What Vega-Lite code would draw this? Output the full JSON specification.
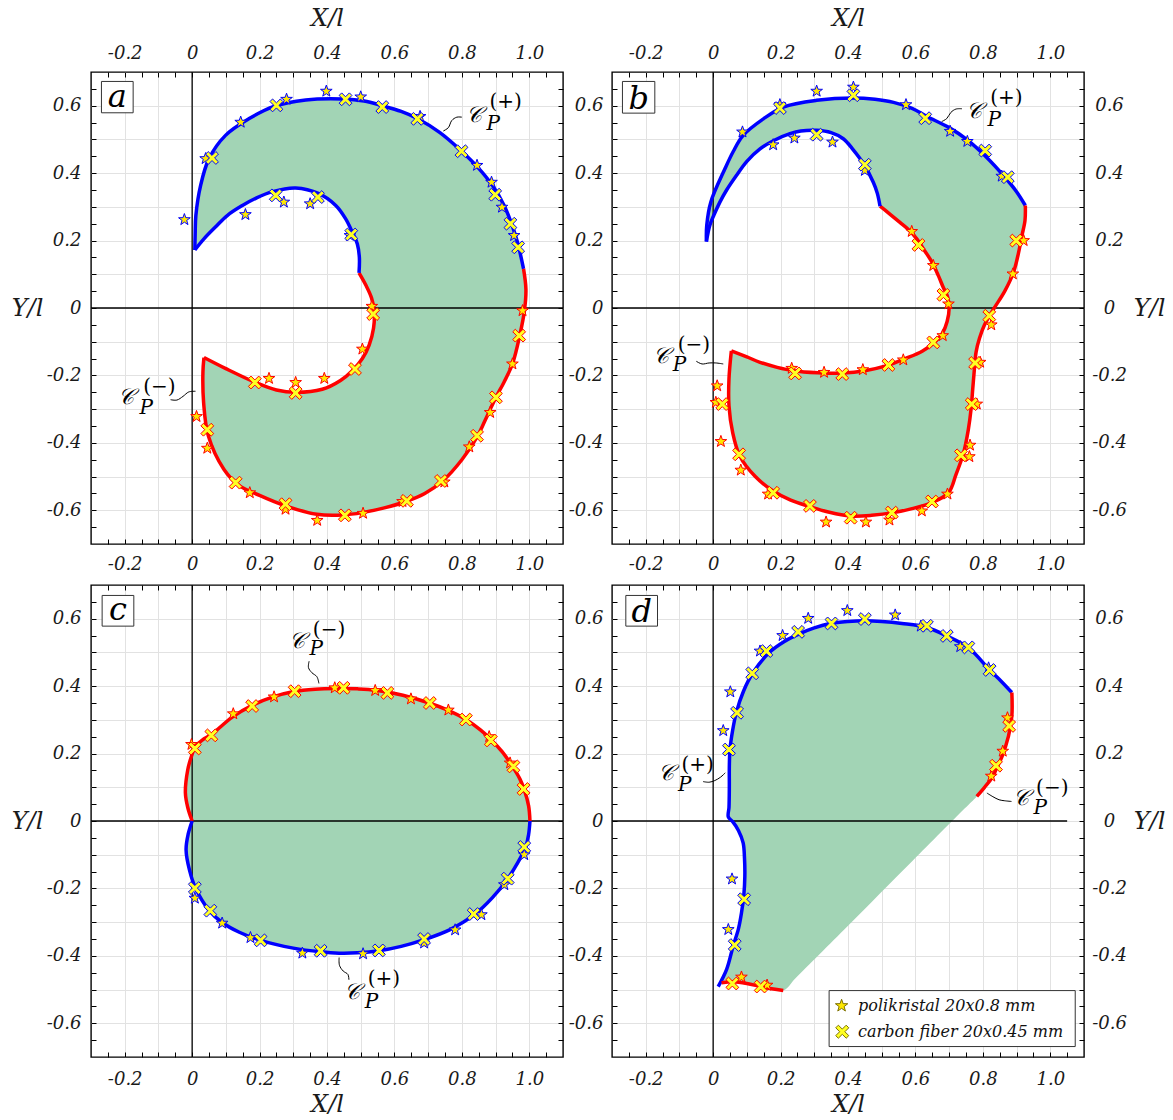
{
"$schema":"https://vega.github.io/schema/vega-lite/v6.json",
"background":"white",
"padding":{"left":10,"top":5,"right":8,"bottom":0},
"bounds":"flush",
"columns":2,
"spacing":{"row":41,"column":49},
"config":{"view":{"stroke":"#000","strokeWidth":1.4}},
"datasets":{
"curve":[
{"p":"a","s":1,"c":"+","i":0,"x":0.008,"y":0.172},{"p":"a","s":1,"c":"+","i":1,"x":0.009,"y":0.22},{"p":"a","s":1,"c":"+","i":2,"x":0.011,"y":0.274},{"p":"a","s":1,"c":"+","i":3,"x":0.025,"y":0.363},{"p":"a","s":1,"c":"+","i":4,"x":0.05,"y":0.443},{"p":"a","s":1,"c":"+","i":5,"x":0.099,"y":0.512},{"p":"a","s":1,"c":"+","i":6,"x":0.168,"y":0.561},{"p":"a","s":1,"c":"+","i":7,"x":0.243,"y":0.598},{"p":"a","s":1,"c":"+","i":8,"x":0.337,"y":0.617},{"p":"a","s":1,"c":"+","i":9,"x":0.446,"y":0.62},{"p":"a","s":1,"c":"+","i":10,"x":0.51,"y":0.614},{"p":"a","s":1,"c":"+","i":11,"x":0.564,"y":0.6},{"p":"a","s":1,"c":"+","i":12,"x":0.62,"y":0.583},{"p":"a","s":1,"c":"+","i":13,"x":0.668,"y":0.562},{"p":"a","s":1,"c":"+","i":14,"x":0.735,"y":0.52},{"p":"a","s":1,"c":"+","i":15,"x":0.797,"y":0.467},{"p":"a","s":1,"c":"+","i":16,"x":0.85,"y":0.414},{"p":"a","s":1,"c":"+","i":17,"x":0.891,"y":0.363},{"p":"a","s":1,"c":"+","i":18,"x":0.925,"y":0.305},{"p":"a","s":1,"c":"+","i":19,"x":0.946,"y":0.254},{"p":"a","s":1,"c":"+","i":20,"x":0.965,"y":0.195},{"p":"a","s":1,"c":"+","i":21,"x":0.983,"y":0.116},
{"p":"a","s":2,"c":"-","i":22,"x":0.983,"y":0.116},{"p":"a","s":2,"c":"-","i":23,"x":0.99,"y":0.056},{"p":"a","s":2,"c":"-","i":24,"x":0.986,"y":-0.005},{"p":"a","s":2,"c":"-","i":25,"x":0.972,"y":-0.08},{"p":"a","s":2,"c":"-","i":26,"x":0.95,"y":-0.166},{"p":"a","s":2,"c":"-","i":27,"x":0.925,"y":-0.22},{"p":"a","s":2,"c":"-","i":28,"x":0.901,"y":-0.265},{"p":"a","s":2,"c":"-","i":29,"x":0.875,"y":-0.32},{"p":"a","s":2,"c":"-","i":30,"x":0.847,"y":-0.379},{"p":"a","s":2,"c":"-","i":31,"x":0.8,"y":-0.45},{"p":"a","s":2,"c":"-","i":32,"x":0.743,"y":-0.513},{"p":"a","s":2,"c":"-","i":33,"x":0.69,"y":-0.55},{"p":"a","s":2,"c":"-","i":34,"x":0.634,"y":-0.574},{"p":"a","s":2,"c":"-","i":35,"x":0.57,"y":-0.593},{"p":"a","s":2,"c":"-","i":36,"x":0.505,"y":-0.607},{"p":"a","s":2,"c":"-","i":37,"x":0.446,"y":-0.614},{"p":"a","s":2,"c":"-","i":38,"x":0.37,"y":-0.612},{"p":"a","s":2,"c":"-","i":39,"x":0.277,"y":-0.587},{"p":"a","s":2,"c":"-","i":40,"x":0.2,"y":-0.556},{"p":"a","s":2,"c":"-","i":41,"x":0.139,"y":-0.526},{"p":"a","s":2,"c":"-","i":42,"x":0.094,"y":-0.478},{"p":"a","s":2,"c":"-","i":43,"x":0.048,"y":-0.379},{"p":"a","s":2,"c":"-","i":44,"x":0.034,"y":-0.28},{"p":"a","s":2,"c":"-","i":45,"x":0.032,"y":-0.19},{"p":"a","s":2,"c":"-","i":46,"x":0.035,"y":-0.147},
{"p":"a","s":3,"c":"-","i":47,"x":0.035,"y":-0.147},{"p":"a","s":3,"c":"-","i":48,"x":0.1,"y":-0.18},{"p":"a","s":3,"c":"-","i":49,"x":0.188,"y":-0.221},{"p":"a","s":3,"c":"-","i":50,"x":0.25,"y":-0.243},{"p":"a","s":3,"c":"-","i":51,"x":0.307,"y":-0.25},{"p":"a","s":3,"c":"-","i":52,"x":0.386,"y":-0.241},{"p":"a","s":3,"c":"-","i":53,"x":0.44,"y":-0.215},{"p":"a","s":3,"c":"-","i":54,"x":0.475,"y":-0.186},{"p":"a","s":3,"c":"-","i":55,"x":0.505,"y":-0.15},{"p":"a","s":3,"c":"-","i":56,"x":0.525,"y":-0.11},{"p":"a","s":3,"c":"-","i":57,"x":0.538,"y":-0.06},{"p":"a","s":3,"c":"-","i":58,"x":0.54,"y":-0.01},{"p":"a","s":3,"c":"-","i":59,"x":0.532,"y":0.03},{"p":"a","s":3,"c":"-","i":60,"x":0.515,"y":0.068},{"p":"a","s":3,"c":"-","i":61,"x":0.495,"y":0.104},
{"p":"a","s":4,"c":"+","i":62,"x":0.495,"y":0.104},{"p":"a","s":4,"c":"+","i":63,"x":0.496,"y":0.15},{"p":"a","s":4,"c":"+","i":64,"x":0.49,"y":0.19},{"p":"a","s":4,"c":"+","i":65,"x":0.475,"y":0.225},{"p":"a","s":4,"c":"+","i":66,"x":0.455,"y":0.265},{"p":"a","s":4,"c":"+","i":67,"x":0.426,"y":0.304},{"p":"a","s":4,"c":"+","i":68,"x":0.376,"y":0.339},{"p":"a","s":4,"c":"+","i":69,"x":0.307,"y":0.356},{"p":"a","s":4,"c":"+","i":70,"x":0.238,"y":0.345},{"p":"a","s":4,"c":"+","i":71,"x":0.19,"y":0.326},{"p":"a","s":4,"c":"+","i":72,"x":0.149,"y":0.304},{"p":"a","s":4,"c":"+","i":73,"x":0.105,"y":0.275},{"p":"a","s":4,"c":"+","i":74,"x":0.069,"y":0.24},{"p":"a","s":4,"c":"+","i":75,"x":0.035,"y":0.205},{"p":"a","s":4,"c":"+","i":76,"x":0.008,"y":0.172},

{"p":"b","s":1,"c":"+","i":0,"x":-0.02,"y":0.197},{"p":"b","s":1,"c":"+","i":1,"x":-0.019,"y":0.245},{"p":"b","s":1,"c":"+","i":2,"x":-0.007,"y":0.314},{"p":"b","s":1,"c":"+","i":3,"x":0.035,"y":0.413},{"p":"b","s":1,"c":"+","i":4,"x":0.06,"y":0.465},{"p":"b","s":1,"c":"+","i":5,"x":0.089,"y":0.512},{"p":"b","s":1,"c":"+","i":6,"x":0.149,"y":0.561},{"p":"b","s":1,"c":"+","i":7,"x":0.208,"y":0.596},{"p":"b","s":1,"c":"+","i":8,"x":0.307,"y":0.616},{"p":"b","s":1,"c":"+","i":9,"x":0.416,"y":0.623},{"p":"b","s":1,"c":"+","i":10,"x":0.48,"y":0.619},{"p":"b","s":1,"c":"+","i":11,"x":0.535,"y":0.61},{"p":"b","s":1,"c":"+","i":12,"x":0.59,"y":0.592},{"p":"b","s":1,"c":"+","i":13,"x":0.634,"y":0.568},{"p":"b","s":1,"c":"+","i":14,"x":0.7,"y":0.535},{"p":"b","s":1,"c":"+","i":15,"x":0.752,"y":0.5},{"p":"b","s":1,"c":"+","i":16,"x":0.81,"y":0.448},{"p":"b","s":1,"c":"+","i":17,"x":0.861,"y":0.393},{"p":"b","s":1,"c":"+","i":18,"x":0.9,"y":0.345},{"p":"b","s":1,"c":"+","i":19,"x":0.926,"y":0.304},
{"p":"b","s":2,"c":"-","i":20,"x":0.926,"y":0.304},{"p":"b","s":2,"c":"-","i":21,"x":0.925,"y":0.26},{"p":"b","s":2,"c":"-","i":22,"x":0.916,"y":0.215},{"p":"b","s":2,"c":"-","i":23,"x":0.905,"y":0.16},{"p":"b","s":2,"c":"-","i":24,"x":0.891,"y":0.106},{"p":"b","s":2,"c":"-","i":25,"x":0.865,"y":0.05},{"p":"b","s":2,"c":"-","i":26,"x":0.832,"y":-0.003},{"p":"b","s":2,"c":"-","i":27,"x":0.805,"y":-0.05},{"p":"b","s":2,"c":"-","i":28,"x":0.79,"y":-0.09},{"p":"b","s":2,"c":"-","i":29,"x":0.78,"y":-0.13},{"p":"b","s":2,"c":"-","i":30,"x":0.775,"y":-0.18},{"p":"b","s":2,"c":"-","i":31,"x":0.77,"y":-0.24},{"p":"b","s":2,"c":"-","i":32,"x":0.765,"y":-0.3},{"p":"b","s":2,"c":"-","i":33,"x":0.757,"y":-0.36},{"p":"b","s":2,"c":"-","i":34,"x":0.743,"y":-0.429},{"p":"b","s":2,"c":"-","i":35,"x":0.72,"y":-0.495},{"p":"b","s":2,"c":"-","i":36,"x":0.698,"y":-0.548},{"p":"b","s":2,"c":"-","i":37,"x":0.649,"y":-0.577},{"p":"b","s":2,"c":"-","i":38,"x":0.59,"y":-0.595},{"p":"b","s":2,"c":"-","i":39,"x":0.535,"y":-0.607},{"p":"b","s":2,"c":"-","i":40,"x":0.47,"y":-0.615},{"p":"b","s":2,"c":"-","i":41,"x":0.406,"y":-0.617},{"p":"b","s":2,"c":"-","i":42,"x":0.345,"y":-0.606},{"p":"b","s":2,"c":"-","i":43,"x":0.287,"y":-0.589},{"p":"b","s":2,"c":"-","i":44,"x":0.23,"y":-0.57},{"p":"b","s":2,"c":"-","i":45,"x":0.178,"y":-0.543},{"p":"b","s":2,"c":"-","i":46,"x":0.125,"y":-0.5},{"p":"b","s":2,"c":"-","i":47,"x":0.079,"y":-0.439},{"p":"b","s":2,"c":"-","i":48,"x":0.058,"y":-0.37},{"p":"b","s":2,"c":"-","i":49,"x":0.047,"y":-0.29},{"p":"b","s":2,"c":"-","i":50,"x":0.047,"y":-0.21},{"p":"b","s":2,"c":"-","i":51,"x":0.054,"y":-0.127},
{"p":"b","s":3,"c":"-","i":52,"x":0.054,"y":-0.127},{"p":"b","s":3,"c":"-","i":53,"x":0.1,"y":-0.145},{"p":"b","s":3,"c":"-","i":54,"x":0.139,"y":-0.161},{"p":"b","s":3,"c":"-","i":55,"x":0.19,"y":-0.176},{"p":"b","s":3,"c":"-","i":56,"x":0.238,"y":-0.186},{"p":"b","s":3,"c":"-","i":57,"x":0.31,"y":-0.192},{"p":"b","s":3,"c":"-","i":58,"x":0.386,"y":-0.193},{"p":"b","s":3,"c":"-","i":59,"x":0.45,"y":-0.186},{"p":"b","s":3,"c":"-","i":60,"x":0.515,"y":-0.171},{"p":"b","s":3,"c":"-","i":61,"x":0.57,"y":-0.15},{"p":"b","s":3,"c":"-","i":62,"x":0.62,"y":-0.128},{"p":"b","s":3,"c":"-","i":63,"x":0.653,"y":-0.105},{"p":"b","s":3,"c":"-","i":64,"x":0.68,"y":-0.075},{"p":"b","s":3,"c":"-","i":65,"x":0.694,"y":-0.04},{"p":"b","s":3,"c":"-","i":66,"x":0.7,"y":0.0},{"p":"b","s":3,"c":"-","i":67,"x":0.695,"y":0.035},{"p":"b","s":3,"c":"-","i":68,"x":0.683,"y":0.06},{"p":"b","s":3,"c":"-","i":69,"x":0.668,"y":0.096},{"p":"b","s":3,"c":"-","i":70,"x":0.649,"y":0.136},{"p":"b","s":3,"c":"-","i":71,"x":0.624,"y":0.175},{"p":"b","s":3,"c":"-","i":72,"x":0.604,"y":0.205},{"p":"b","s":3,"c":"-","i":73,"x":0.58,"y":0.232},{"p":"b","s":3,"c":"-","i":74,"x":0.554,"y":0.254},{"p":"b","s":3,"c":"-","i":75,"x":0.525,"y":0.278},{"p":"b","s":3,"c":"-","i":76,"x":0.495,"y":0.302},
{"p":"b","s":4,"c":"+","i":77,"x":0.495,"y":0.302},{"p":"b","s":4,"c":"+","i":78,"x":0.487,"y":0.34},{"p":"b","s":4,"c":"+","i":79,"x":0.475,"y":0.373},{"p":"b","s":4,"c":"+","i":80,"x":0.446,"y":0.428},{"p":"b","s":4,"c":"+","i":81,"x":0.415,"y":0.47},{"p":"b","s":4,"c":"+","i":82,"x":0.386,"y":0.502},{"p":"b","s":4,"c":"+","i":83,"x":0.35,"y":0.52},{"p":"b","s":4,"c":"+","i":84,"x":0.307,"y":0.527},{"p":"b","s":4,"c":"+","i":85,"x":0.26,"y":0.525},{"p":"b","s":4,"c":"+","i":86,"x":0.228,"y":0.517},{"p":"b","s":4,"c":"+","i":87,"x":0.18,"y":0.497},{"p":"b","s":4,"c":"+","i":88,"x":0.139,"y":0.472},{"p":"b","s":4,"c":"+","i":89,"x":0.1,"y":0.435},{"p":"b","s":4,"c":"+","i":90,"x":0.069,"y":0.393},{"p":"b","s":4,"c":"+","i":91,"x":0.04,"y":0.35},{"p":"b","s":4,"c":"+","i":92,"x":0.02,"y":0.314},{"p":"b","s":4,"c":"+","i":93,"x":0.002,"y":0.275},{"p":"b","s":4,"c":"+","i":94,"x":-0.01,"y":0.245},{"p":"b","s":4,"c":"+","i":95,"x":-0.02,"y":0.197},

{"p":"c","s":1,"c":"-","i":0,"x":0.0,"y":0.0},{"p":"c","s":1,"c":"-","i":1,"x":-0.013,"y":0.04},{"p":"c","s":1,"c":"-","i":2,"x":-0.02,"y":0.083},{"p":"c","s":1,"c":"-","i":3,"x":-0.013,"y":0.152},{"p":"c","s":1,"c":"-","i":4,"x":-0.002,"y":0.192},{"p":"c","s":1,"c":"-","i":5,"x":0.01,"y":0.222},{"p":"c","s":1,"c":"-","i":6,"x":0.03,"y":0.24},{"p":"c","s":1,"c":"-","i":7,"x":0.059,"y":0.258},{"p":"c","s":1,"c":"-","i":8,"x":0.119,"y":0.308},{"p":"c","s":1,"c":"-","i":9,"x":0.178,"y":0.343},{"p":"c","s":1,"c":"-","i":10,"x":0.24,"y":0.368},{"p":"c","s":1,"c":"-","i":11,"x":0.302,"y":0.384},{"p":"c","s":1,"c":"-","i":12,"x":0.365,"y":0.391},{"p":"c","s":1,"c":"-","i":13,"x":0.426,"y":0.393},{"p":"c","s":1,"c":"-","i":14,"x":0.49,"y":0.392},{"p":"c","s":1,"c":"-","i":15,"x":0.545,"y":0.388},{"p":"c","s":1,"c":"-","i":16,"x":0.625,"y":0.373},{"p":"c","s":1,"c":"-","i":17,"x":0.703,"y":0.35},{"p":"c","s":1,"c":"-","i":18,"x":0.76,"y":0.328},{"p":"c","s":1,"c":"-","i":19,"x":0.812,"y":0.301},{"p":"c","s":1,"c":"-","i":20,"x":0.855,"y":0.27},{"p":"c","s":1,"c":"-","i":21,"x":0.886,"y":0.242},{"p":"c","s":1,"c":"-","i":22,"x":0.92,"y":0.205},{"p":"c","s":1,"c":"-","i":23,"x":0.95,"y":0.162},{"p":"c","s":1,"c":"-","i":24,"x":0.972,"y":0.125},{"p":"c","s":1,"c":"-","i":25,"x":0.985,"y":0.093},{"p":"c","s":1,"c":"-","i":26,"x":0.998,"y":0.045},{"p":"c","s":1,"c":"-","i":27,"x":1.002,"y":0.0},
{"p":"c","s":2,"c":"+","i":28,"x":1.002,"y":0.0},{"p":"c","s":2,"c":"+","i":29,"x":0.998,"y":-0.04},{"p":"c","s":2,"c":"+","i":30,"x":0.99,"y":-0.075},{"p":"c","s":2,"c":"+","i":31,"x":0.965,"y":-0.125},{"p":"c","s":2,"c":"+","i":32,"x":0.934,"y":-0.174},{"p":"c","s":2,"c":"+","i":33,"x":0.89,"y":-0.228},{"p":"c","s":2,"c":"+","i":34,"x":0.837,"y":-0.278},{"p":"c","s":2,"c":"+","i":35,"x":0.765,"y":-0.322},{"p":"c","s":2,"c":"+","i":36,"x":0.688,"y":-0.352},{"p":"c","s":2,"c":"+","i":37,"x":0.62,"y":-0.372},{"p":"c","s":2,"c":"+","i":38,"x":0.554,"y":-0.385},{"p":"c","s":2,"c":"+","i":39,"x":0.49,"y":-0.391},{"p":"c","s":2,"c":"+","i":40,"x":0.436,"y":-0.392},{"p":"c","s":2,"c":"+","i":41,"x":0.381,"y":-0.388},{"p":"c","s":2,"c":"+","i":42,"x":0.3,"y":-0.377},{"p":"c","s":2,"c":"+","i":43,"x":0.203,"y":-0.354},{"p":"c","s":2,"c":"+","i":44,"x":0.14,"y":-0.33},{"p":"c","s":2,"c":"+","i":45,"x":0.089,"y":-0.301},{"p":"c","s":2,"c":"+","i":46,"x":0.05,"y":-0.265},{"p":"c","s":2,"c":"+","i":47,"x":0.01,"y":-0.199},{"p":"c","s":2,"c":"+","i":48,"x":-0.008,"y":-0.145},{"p":"c","s":2,"c":"+","i":49,"x":-0.018,"y":-0.085},{"p":"c","s":2,"c":"+","i":50,"x":-0.012,"y":-0.04},{"p":"c","s":2,"c":"+","i":51,"x":0.0,"y":0.0},

{"p":"d","s":1,"c":"+","i":0,"x":0.015,"y":-0.491},{"p":"d","s":1,"c":"+","i":1,"x":0.04,"y":-0.44},{"p":"d","s":1,"c":"+","i":2,"x":0.059,"y":-0.372},{"p":"d","s":1,"c":"+","i":3,"x":0.075,"y":-0.32},{"p":"d","s":1,"c":"+","i":4,"x":0.084,"y":-0.273},{"p":"d","s":1,"c":"+","i":5,"x":0.091,"y":-0.22},{"p":"d","s":1,"c":"+","i":6,"x":0.094,"y":-0.164},{"p":"d","s":1,"c":"+","i":7,"x":0.093,"y":-0.11},{"p":"d","s":1,"c":"+","i":8,"x":0.089,"y":-0.065},{"p":"d","s":1,"c":"+","i":9,"x":0.075,"y":-0.028},{"p":"d","s":1,"c":"+","i":10,"x":0.058,"y":-0.002},{"p":"d","s":1,"c":"+","i":11,"x":0.045,"y":0.012},{"p":"d","s":1,"c":"+","i":12,"x":0.047,"y":0.04},{"p":"d","s":1,"c":"+","i":13,"x":0.048,"y":0.1},{"p":"d","s":1,"c":"+","i":14,"x":0.048,"y":0.16},{"p":"d","s":1,"c":"+","i":15,"x":0.05,"y":0.213},{"p":"d","s":1,"c":"+","i":16,"x":0.058,"y":0.27},{"p":"d","s":1,"c":"+","i":17,"x":0.069,"y":0.323},{"p":"d","s":1,"c":"+","i":18,"x":0.09,"y":0.385},{"p":"d","s":1,"c":"+","i":19,"x":0.119,"y":0.441},{"p":"d","s":1,"c":"+","i":20,"x":0.168,"y":0.501},{"p":"d","s":1,"c":"+","i":21,"x":0.21,"y":0.532},{"p":"d","s":1,"c":"+","i":22,"x":0.257,"y":0.556},{"p":"d","s":1,"c":"+","i":23,"x":0.3,"y":0.573},{"p":"d","s":1,"c":"+","i":24,"x":0.347,"y":0.586},{"p":"d","s":1,"c":"+","i":25,"x":0.4,"y":0.592},{"p":"d","s":1,"c":"+","i":26,"x":0.45,"y":0.594},{"p":"d","s":1,"c":"+","i":27,"x":0.5,"y":0.592},{"p":"d","s":1,"c":"+","i":28,"x":0.56,"y":0.586},{"p":"d","s":1,"c":"+","i":29,"x":0.634,"y":0.574},{"p":"d","s":1,"c":"+","i":30,"x":0.693,"y":0.549},{"p":"d","s":1,"c":"+","i":31,"x":0.757,"y":0.514},{"p":"d","s":1,"c":"+","i":32,"x":0.822,"y":0.446},{"p":"d","s":1,"c":"+","i":33,"x":0.855,"y":0.414},{"p":"d","s":1,"c":"+","i":34,"x":0.886,"y":0.381},
{"p":"d","s":2,"c":"-","i":35,"x":0.886,"y":0.381},{"p":"d","s":2,"c":"-","i":36,"x":0.886,"y":0.311},{"p":"d","s":2,"c":"-","i":37,"x":0.876,"y":0.252},{"p":"d","s":2,"c":"-","i":38,"x":0.857,"y":0.192},{"p":"d","s":2,"c":"-","i":39,"x":0.84,"y":0.155},{"p":"d","s":2,"c":"-","i":40,"x":0.827,"y":0.128},{"p":"d","s":2,"c":"-","i":41,"x":0.805,"y":0.1},{"p":"d","s":2,"c":"-","i":42,"x":0.782,"y":0.073},
{"p":"d","s":0,"c":"-","i":43,"x":0.745,"y":0.036},{"p":"d","s":0,"c":"-","i":44,"x":0.591,"y":-0.119},{"p":"d","s":0,"c":"-","i":45,"x":0.4,"y":-0.311},{"p":"d","s":0,"c":"-","i":46,"x":0.245,"y":-0.466},
{"p":"d","s":3,"c":"-","i":47,"x":0.208,"y":-0.503},{"p":"d","s":3,"c":"-","i":48,"x":0.149,"y":-0.493},{"p":"d","s":3,"c":"-","i":49,"x":0.1,"y":-0.482},{"p":"d","s":3,"c":"-","i":50,"x":0.06,"y":-0.477},{"p":"d","s":3,"c":"-","i":51,"x":0.025,"y":-0.48}
],
"pts":[
{"p":"a","c":"+","m":"s","x":-0.023,"y":0.262},{"p":"a","c":"+","m":"s","x":0.04,"y":0.443},{"p":"a","c":"+","m":"s","x":0.144,"y":0.551},{"p":"a","c":"+","m":"s","x":0.28,"y":0.619},{"p":"a","c":"+","m":"s","x":0.398,"y":0.643},{"p":"a","c":"+","m":"s","x":0.5,"y":0.626},{"p":"a","c":"+","m":"s","x":0.676,"y":0.568},{"p":"a","c":"+","m":"s","x":0.845,"y":0.423},{"p":"a","c":"+","m":"s","x":0.888,"y":0.373},{"p":"a","c":"+","m":"s","x":0.919,"y":0.299},{"p":"a","c":"+","m":"s","x":0.955,"y":0.215},{"p":"a","c":"+","m":"s","x":0.158,"y":0.277},{"p":"a","c":"+","m":"s","x":0.272,"y":0.314},{"p":"a","c":"+","m":"s","x":0.35,"y":0.309},{"p":"a","c":"+","m":"s","x":0.468,"y":0.215},
{"p":"a","c":"+","m":"x","x":0.059,"y":0.445},{"p":"a","c":"+","m":"x","x":0.25,"y":0.601},{"p":"a","c":"+","m":"x","x":0.455,"y":0.619},{"p":"a","c":"+","m":"x","x":0.564,"y":0.596},{"p":"a","c":"+","m":"x","x":0.668,"y":0.561},{"p":"a","c":"+","m":"x","x":0.799,"y":0.465},{"p":"a","c":"+","m":"x","x":0.899,"y":0.336},{"p":"a","c":"+","m":"x","x":0.944,"y":0.25},{"p":"a","c":"+","m":"x","x":0.967,"y":0.18},{"p":"a","c":"+","m":"x","x":0.248,"y":0.334},{"p":"a","c":"+","m":"x","x":0.373,"y":0.329},{"p":"a","c":"+","m":"x","x":0.472,"y":0.218},
{"p":"a","c":"-","m":"s","x":0.533,"y":0.005},{"p":"a","c":"-","m":"s","x":0.98,"y":-0.008},{"p":"a","c":"-","m":"s","x":0.505,"y":-0.122},{"p":"a","c":"-","m":"s","x":0.95,"y":-0.166},{"p":"a","c":"-","m":"s","x":0.228,"y":-0.209},{"p":"a","c":"-","m":"s","x":0.307,"y":-0.221},{"p":"a","c":"-","m":"s","x":0.392,"y":-0.209},{"p":"a","c":"-","m":"s","x":0.013,"y":-0.322},{"p":"a","c":"-","m":"s","x":0.884,"y":-0.31},{"p":"a","c":"-","m":"s","x":0.045,"y":-0.416},{"p":"a","c":"-","m":"s","x":0.822,"y":-0.412},{"p":"a","c":"-","m":"s","x":0.171,"y":-0.548},{"p":"a","c":"-","m":"s","x":0.277,"y":-0.597},{"p":"a","c":"-","m":"s","x":0.371,"y":-0.63},{"p":"a","c":"-","m":"s","x":0.507,"y":-0.609},{"p":"a","c":"-","m":"s","x":0.624,"y":-0.574},{"p":"a","c":"-","m":"s","x":0.748,"y":-0.516},
{"p":"a","c":"-","m":"x","x":0.537,"y":-0.018},{"p":"a","c":"-","m":"x","x":0.97,"y":-0.082},{"p":"a","c":"-","m":"x","x":0.483,"y":-0.181},{"p":"a","c":"-","m":"x","x":0.186,"y":-0.221},{"p":"a","c":"-","m":"x","x":0.307,"y":-0.252},{"p":"a","c":"-","m":"x","x":0.901,"y":-0.265},{"p":"a","c":"-","m":"x","x":0.045,"y":-0.361},{"p":"a","c":"-","m":"x","x":0.845,"y":-0.379},{"p":"a","c":"-","m":"x","x":0.129,"y":-0.518},{"p":"a","c":"-","m":"x","x":0.738,"y":-0.513},{"p":"a","c":"-","m":"x","x":0.277,"y":-0.582},{"p":"a","c":"-","m":"x","x":0.637,"y":-0.572},{"p":"a","c":"-","m":"x","x":0.453,"y":-0.615},

{"p":"b","c":"+","m":"s","x":0.307,"y":0.643},{"p":"b","c":"+","m":"s","x":0.416,"y":0.655},{"p":"b","c":"+","m":"s","x":0.087,"y":0.522},{"p":"b","c":"+","m":"s","x":0.198,"y":0.603},{"p":"b","c":"+","m":"s","x":0.572,"y":0.603},{"p":"b","c":"+","m":"s","x":0.703,"y":0.524},{"p":"b","c":"+","m":"s","x":0.754,"y":0.494},{"p":"b","c":"+","m":"s","x":0.856,"y":0.391},{"p":"b","c":"+","m":"s","x":0.178,"y":0.484},{"p":"b","c":"+","m":"s","x":0.241,"y":0.504},{"p":"b","c":"+","m":"s","x":0.354,"y":0.492},{"p":"b","c":"+","m":"s","x":0.45,"y":0.408},
{"p":"b","c":"+","m":"x","x":0.198,"y":0.593},{"p":"b","c":"+","m":"x","x":0.416,"y":0.631},{"p":"b","c":"+","m":"x","x":0.629,"y":0.563},{"p":"b","c":"+","m":"x","x":0.807,"y":0.467},{"p":"b","c":"+","m":"x","x":0.874,"y":0.388},{"p":"b","c":"+","m":"x","x":0.307,"y":0.514},{"p":"b","c":"+","m":"x","x":0.45,"y":0.425},
{"p":"b","c":"-","m":"s","x":0.589,"y":0.227},{"p":"b","c":"-","m":"s","x":0.653,"y":0.126},{"p":"b","c":"-","m":"s","x":0.698,"y":0.012},{"p":"b","c":"-","m":"s","x":0.921,"y":0.2},{"p":"b","c":"-","m":"s","x":0.889,"y":0.101},{"p":"b","c":"-","m":"s","x":0.825,"y":-0.05},{"p":"b","c":"-","m":"s","x":0.681,"y":-0.082},{"p":"b","c":"-","m":"s","x":0.564,"y":-0.154},{"p":"b","c":"-","m":"s","x":0.444,"y":-0.183},{"p":"b","c":"-","m":"s","x":0.329,"y":-0.191},{"p":"b","c":"-","m":"s","x":0.233,"y":-0.179},{"p":"b","c":"-","m":"s","x":0.792,"y":-0.161},{"p":"b","c":"-","m":"s","x":0.782,"y":-0.285},{"p":"b","c":"-","m":"s","x":0.012,"y":-0.231},{"p":"b","c":"-","m":"s","x":0.008,"y":-0.28},{"p":"b","c":"-","m":"s","x":0.023,"y":-0.396},{"p":"b","c":"-","m":"s","x":0.082,"y":-0.481},{"p":"b","c":"-","m":"s","x":0.762,"y":-0.407},{"p":"b","c":"-","m":"s","x":0.76,"y":-0.441},{"p":"b","c":"-","m":"s","x":0.163,"y":-0.552},{"p":"b","c":"-","m":"s","x":0.695,"y":-0.552},{"p":"b","c":"-","m":"s","x":0.619,"y":-0.602},{"p":"b","c":"-","m":"s","x":0.523,"y":-0.629},{"p":"b","c":"-","m":"s","x":0.453,"y":-0.635},{"p":"b","c":"-","m":"s","x":0.335,"y":-0.635},
{"p":"b","c":"-","m":"x","x":0.609,"y":0.187},{"p":"b","c":"-","m":"x","x":0.899,"y":0.2},{"p":"b","c":"-","m":"x","x":0.683,"y":0.039},{"p":"b","c":"-","m":"x","x":0.819,"y":-0.023},{"p":"b","c":"-","m":"x","x":0.653,"y":-0.102},{"p":"b","c":"-","m":"x","x":0.52,"y":-0.169},{"p":"b","c":"-","m":"x","x":0.383,"y":-0.196},{"p":"b","c":"-","m":"x","x":0.243,"y":-0.194},{"p":"b","c":"-","m":"x","x":0.777,"y":-0.163},{"p":"b","c":"-","m":"x","x":0.027,"y":-0.285},{"p":"b","c":"-","m":"x","x":0.767,"y":-0.285},{"p":"b","c":"-","m":"x","x":0.077,"y":-0.434},{"p":"b","c":"-","m":"x","x":0.735,"y":-0.437},{"p":"b","c":"-","m":"x","x":0.178,"y":-0.548},{"p":"b","c":"-","m":"x","x":0.287,"y":-0.587},{"p":"b","c":"-","m":"x","x":0.649,"y":-0.574},{"p":"b","c":"-","m":"x","x":0.53,"y":-0.607},{"p":"b","c":"-","m":"x","x":0.408,"y":-0.622},

{"p":"c","c":"-","m":"s","x":-0.002,"y":0.227},{"p":"c","c":"-","m":"s","x":0.122,"y":0.318},{"p":"c","c":"-","m":"s","x":0.243,"y":0.368},{"p":"c","c":"-","m":"s","x":0.423,"y":0.395},{"p":"c","c":"-","m":"s","x":0.543,"y":0.387},{"p":"c","c":"-","m":"s","x":0.649,"y":0.362},{"p":"c","c":"-","m":"s","x":0.76,"y":0.329},{"p":"c","c":"-","m":"s","x":0.881,"y":0.25},{"p":"c","c":"-","m":"s","x":0.943,"y":0.172},
{"p":"c","c":"-","m":"x","x":0.008,"y":0.215},{"p":"c","c":"-","m":"x","x":0.057,"y":0.254},{"p":"c","c":"-","m":"x","x":0.178,"y":0.341},{"p":"c","c":"-","m":"x","x":0.304,"y":0.385},{"p":"c","c":"-","m":"x","x":0.449,"y":0.395},{"p":"c","c":"-","m":"x","x":0.579,"y":0.38},{"p":"c","c":"-","m":"x","x":0.705,"y":0.35},{"p":"c","c":"-","m":"x","x":0.812,"y":0.301},{"p":"c","c":"-","m":"x","x":0.886,"y":0.239},{"p":"c","c":"-","m":"x","x":0.953,"y":0.162},{"p":"c","c":"-","m":"x","x":0.983,"y":0.095},
{"p":"c","c":"+","m":"s","x":0.985,"y":-0.1},{"p":"c","c":"+","m":"s","x":0.926,"y":-0.189},{"p":"c","c":"+","m":"s","x":0.858,"y":-0.278},{"p":"c","c":"+","m":"s","x":0.78,"y":-0.323},{"p":"c","c":"+","m":"s","x":0.688,"y":-0.362},{"p":"c","c":"+","m":"s","x":0.507,"y":-0.394},{"p":"c","c":"+","m":"s","x":0.327,"y":-0.392},{"p":"c","c":"+","m":"s","x":0.173,"y":-0.346},{"p":"c","c":"+","m":"s","x":0.089,"y":-0.303},{"p":"c","c":"+","m":"s","x":0.008,"y":-0.229},
{"p":"c","c":"+","m":"x","x":0.985,"y":-0.077},{"p":"c","c":"+","m":"x","x":0.936,"y":-0.171},{"p":"c","c":"+","m":"x","x":0.835,"y":-0.276},{"p":"c","c":"+","m":"x","x":0.688,"y":-0.35},{"p":"c","c":"+","m":"x","x":0.554,"y":-0.384},{"p":"c","c":"+","m":"x","x":0.381,"y":-0.385},{"p":"c","c":"+","m":"x","x":0.203,"y":-0.354},{"p":"c","c":"+","m":"x","x":0.054,"y":-0.266},{"p":"c","c":"+","m":"x","x":0.008,"y":-0.199},

{"p":"d","c":"+","m":"s","x":0.398,"y":0.624},{"p":"d","c":"+","m":"s","x":0.282,"y":0.601},{"p":"d","c":"+","m":"s","x":0.206,"y":0.55},{"p":"d","c":"+","m":"s","x":0.139,"y":0.504},{"p":"d","c":"+","m":"s","x":0.051,"y":0.383},{"p":"d","c":"+","m":"s","x":0.03,"y":0.268},{"p":"d","c":"+","m":"s","x":0.54,"y":0.611},{"p":"d","c":"+","m":"s","x":0.616,"y":0.578},{"p":"d","c":"+","m":"s","x":0.733,"y":0.517},{"p":"d","c":"+","m":"s","x":0.817,"y":0.454},{"p":"d","c":"+","m":"s","x":0.056,"y":-0.172},{"p":"d","c":"+","m":"s","x":0.045,"y":-0.322},
{"p":"d","c":"+","m":"x","x":0.351,"y":0.586},{"p":"d","c":"+","m":"x","x":0.45,"y":0.599},{"p":"d","c":"+","m":"x","x":0.634,"y":0.579},{"p":"d","c":"+","m":"x","x":0.693,"y":0.549},{"p":"d","c":"+","m":"x","x":0.757,"y":0.515},{"p":"d","c":"+","m":"x","x":0.82,"y":0.448},{"p":"d","c":"+","m":"x","x":0.252,"y":0.561},{"p":"d","c":"+","m":"x","x":0.158,"y":0.504},{"p":"d","c":"+","m":"x","x":0.116,"y":0.438},{"p":"d","c":"+","m":"x","x":0.071,"y":0.321},{"p":"d","c":"+","m":"x","x":0.047,"y":0.212},{"p":"d","c":"+","m":"x","x":0.092,"y":-0.232},{"p":"d","c":"+","m":"x","x":0.064,"y":-0.368},
{"p":"d","c":"-","m":"s","x":0.873,"y":0.306},{"p":"d","c":"-","m":"s","x":0.859,"y":0.207},{"p":"d","c":"-","m":"s","x":0.825,"y":0.133},{"p":"d","c":"-","m":"s","x":0.084,"y":-0.463},{"p":"d","c":"-","m":"s","x":0.16,"y":-0.487},
{"p":"d","c":"-","m":"x","x":0.878,"y":0.282},{"p":"d","c":"-","m":"x","x":0.839,"y":0.164},{"p":"d","c":"-","m":"x","x":0.057,"y":-0.482},{"p":"d","c":"-","m":"x","x":0.141,"y":-0.491}
],
"lead":[
{"p":"a","k":1,"i":0,"x":0.745,"y":0.525},{"p":"a","k":1,"i":1,"x":0.76,"y":0.535},{"p":"a","k":1,"i":2,"x":0.77,"y":0.556},{"p":"a","k":1,"i":3,"x":0.785,"y":0.566},{"p":"a","k":1,"i":4,"x":0.8,"y":0.566},
{"p":"a","k":2,"i":0,"x":-0.064,"y":-0.272},{"p":"a","k":2,"i":1,"x":-0.045,"y":-0.273},{"p":"a","k":2,"i":2,"x":-0.027,"y":-0.262},{"p":"a","k":2,"i":3,"x":-0.01,"y":-0.249},{"p":"a","k":2,"i":4,"x":0.01,"y":-0.247},
{"p":"b","k":1,"i":0,"x":0.678,"y":0.553},{"p":"b","k":1,"i":1,"x":0.693,"y":0.562},{"p":"b","k":1,"i":2,"x":0.705,"y":0.58},{"p":"b","k":1,"i":3,"x":0.72,"y":0.59},{"p":"b","k":1,"i":4,"x":0.738,"y":0.591},
{"p":"b","k":2,"i":0,"x":-0.05,"y":-0.158},{"p":"b","k":2,"i":1,"x":-0.033,"y":-0.166},{"p":"b","k":2,"i":2,"x":-0.012,"y":-0.163},{"p":"b","k":2,"i":3,"x":0.008,"y":-0.163},{"p":"b","k":2,"i":4,"x":0.03,"y":-0.166},
{"p":"c","k":1,"i":0,"x":0.347,"y":0.474},{"p":"c","k":1,"i":1,"x":0.345,"y":0.455},{"p":"c","k":1,"i":2,"x":0.355,"y":0.44},{"p":"c","k":1,"i":3,"x":0.37,"y":0.428},{"p":"c","k":1,"i":4,"x":0.376,"y":0.408},
{"p":"c","k":2,"i":0,"x":0.436,"y":-0.405},{"p":"c","k":2,"i":1,"x":0.437,"y":-0.428},{"p":"c","k":2,"i":2,"x":0.448,"y":-0.445},{"p":"c","k":2,"i":3,"x":0.462,"y":-0.455},{"p":"c","k":2,"i":4,"x":0.465,"y":-0.471},
{"p":"d","k":1,"i":0,"x":-0.03,"y":0.117},{"p":"d","k":1,"i":1,"x":-0.012,"y":0.115},{"p":"d","k":1,"i":2,"x":0.005,"y":0.12},{"p":"d","k":1,"i":3,"x":0.022,"y":0.13},{"p":"d","k":1,"i":4,"x":0.036,"y":0.143},
{"p":"d","k":2,"i":0,"x":0.812,"y":0.083},{"p":"d","k":2,"i":1,"x":0.83,"y":0.072},{"p":"d","k":2,"i":2,"x":0.848,"y":0.063},{"p":"d","k":2,"i":3,"x":0.865,"y":0.06},{"p":"d","k":2,"i":4,"x":0.885,"y":0.058}
],
"lab":[
{"p":"a","k":"C","t":"𝒞","x":0.835,"y":0.572},{"p":"a","k":"P","t":"P","x":0.893,"y":0.546},{"p":"a","k":"S","t":"(+)","x":0.93,"y":0.612},
{"p":"a","k":"C","t":"𝒞","x":-0.195,"y":-0.265},{"p":"a","k":"P","t":"P","x":-0.136,"y":-0.297},{"p":"a","k":"S","t":"(−)","x":-0.097,"y":-0.235},
{"p":"b","k":"C","t":"𝒞","x":0.775,"y":0.583},{"p":"b","k":"P","t":"P","x":0.834,"y":0.557},{"p":"b","k":"S","t":"(+)","x":0.87,"y":0.623},
{"p":"b","k":"C","t":"𝒞","x":-0.155,"y":-0.142},{"p":"b","k":"P","t":"P","x":-0.1,"y":-0.169},{"p":"b","k":"S","t":"(−)","x":-0.057,"y":-0.111},
{"p":"c","k":"C","t":"𝒞","x":0.31,"y":0.534},{"p":"c","k":"P","t":"P","x":0.368,"y":0.511},{"p":"c","k":"S","t":"(−)","x":0.406,"y":0.568},
{"p":"c","k":"C","t":"𝒞","x":0.473,"y":-0.506},{"p":"c","k":"P","t":"P","x":0.532,"y":-0.536},{"p":"c","k":"S","t":"(+)","x":0.569,"y":-0.47},
{"p":"d","k":"C","t":"𝒞","x":-0.141,"y":0.141},{"p":"d","k":"P","t":"P","x":-0.084,"y":0.108},{"p":"d","k":"S","t":"(+)","x":-0.046,"y":0.165},
{"p":"d","k":"C","t":"𝒞","x":0.914,"y":0.067},{"p":"d","k":"P","t":"P","x":0.97,"y":0.038},{"p":"d","k":"S","t":"(−)","x":1.006,"y":0.098}
],
"box":[
{"p":"a","x":-0.269,"x2":-0.175,"y":0.672,"y2":0.579,"lx":-0.222,"ly":0.597,"t":"a"},
{"p":"b","x":-0.269,"x2":-0.173,"y":0.672,"y2":0.578,"lx":-0.221,"ly":0.59,"t":"b"},
{"p":"c","x":-0.267,"x2":-0.173,"y":0.669,"y2":0.578,"lx":-0.22,"ly":0.597,"t":"c"},
{"p":"d","x":-0.259,"x2":-0.165,"y":0.669,"y2":0.578,"lx":-0.212,"ly":0.59,"t":"d"}
],
"leg":[
{"m":"s","x":0.381,"tx":0.43,"y":-0.548,"t":"polikristal 20x0.8 mm"},
{"m":"x","x":0.383,"tx":0.43,"y":-0.625,"t":"carbon fiber 20x0.45 mm"}
],
"legbox":[{"x":0.344,"x2":1.074,"y":-0.503,"y2":-0.669}]
},
"concat":[
{"width":472,"height":472,"resolve":{"axis":{"x":"independent","y":"independent"}},
"layer":[
{"data":{"name":"curve"},"transform":[{"filter":"datum.p=='a'"}],"mark":{"type":"line","fill":"#a2d4b5","strokeWidth":0,"strokeOpacity":0,"interpolate":"catmull-rom"},
"encoding":{"x":{"field":"x","type":"quantitative","scale":{"domain":[-0.3,1.1],"nice":false,"zero":false},"axis":{"orient":"bottom","values":[-0.2,-0.1,0,0.1,0.2,0.3,0.4,0.5,0.6,0.7,0.8,0.9,1],"grid":true,"gridColor":"#e2e2e2","gridWidth":1,"labels":false,"ticks":false,"domain":false,"title":null,"zindex":0}},"y":{"field":"y","type":"quantitative","scale":{"domain":[-0.7,0.7],"nice":false,"zero":false},"axis":{"orient":"left","values":[-0.6,-0.5,-0.4,-0.3,-0.2,-0.1,0,0.1,0.2,0.3,0.4,0.5,0.6],"grid":true,"gridColor":"#e2e2e2","gridWidth":1,"labels":false,"ticks":false,"domain":false,"title":null,"zindex":0}},"order":{"field":"i","type":"quantitative"}}},
{"data":{"values":[{}]},"mark":{"type":"rule","color":"#000","strokeWidth":1.3},"encoding":{"y":{"datum":0,"type":"quantitative","scale":{"domain":[-0.7,0.7],"nice":false,"zero":false},"axis":null}}},
{"data":{"values":[{}]},"mark":{"type":"rule","color":"#000","strokeWidth":1.3},"encoding":{"x":{"datum":0,"type":"quantitative","scale":{"domain":[-0.3,1.1],"nice":false,"zero":false},"axis":null}}},
{"data":{"name":"curve"},"transform":[{"filter":"datum.p=='a' && datum.s>0"}],"mark":{"type":"line","strokeWidth":3.5,"interpolate":"catmull-rom"},
"encoding":{"x":{"field":"x","type":"quantitative","scale":{"domain":[-0.3,1.1],"nice":false,"zero":false},"axis":{"orient":"bottom","values":[-0.25,-0.2,-0.15,-0.1,-0.05,0,0.05,0.1,0.15,0.2,0.25,0.3,0.35,0.4,0.45,0.5,0.55,0.6,0.65,0.7,0.75,0.8,0.85,0.9,0.95,1,1.05],"grid":false,"labels":false,"ticks":true,"tickSize":-5,"tickColor":"#000","tickWidth":1,"domain":false,"title":null,"zindex":1}},"y":{"field":"y","type":"quantitative","scale":{"domain":[-0.7,0.7],"nice":false,"zero":false},"axis":{"orient":"left","values":[-0.65,-0.6,-0.55,-0.5,-0.45,-0.4,-0.35,-0.3,-0.25,-0.2,-0.15,-0.1,-0.05,0,0.05,0.1,0.15,0.2,0.25,0.3,0.35,0.4,0.45,0.5,0.55,0.6,0.65],"grid":false,"labels":false,"ticks":true,"tickSize":-5,"tickColor":"#000","tickWidth":1,"domain":false,"title":null,"zindex":1}},"detail":{"field":"s","type":"nominal"},"order":{"field":"i","type":"quantitative"},"color":{"field":"c","type":"nominal","scale":{"domain":["+","-"],"range":["#0000ff","#ff0000"]},"legend":null}}},
{"data":{"name":"pts"},"transform":[{"filter":"datum.p=='a' && datum.m=='s'"}],"mark":{"type":"point","shape":"M0,-1L0.235,-0.324L0.951,-0.309L0.38,0.124L0.588,0.809L0,0.4L-0.588,0.809L-0.38,0.124L-0.951,-0.309L-0.235,-0.324Z","size":150,"filled":true,"fill":"#ffe800","strokeWidth":1,"opacity":1},
"encoding":{"x":{"field":"x","type":"quantitative","scale":{"domain":[-0.3,1.1],"nice":false,"zero":false},"axis":{"orient":"top","values":[-0.25,-0.2,-0.15,-0.1,-0.05,0,0.05,0.1,0.15,0.2,0.25,0.3,0.35,0.4,0.45,0.5,0.55,0.6,0.65,0.7,0.75,0.8,0.85,0.9,0.95,1,1.05],"grid":false,"labels":false,"ticks":true,"tickSize":-5,"tickColor":"#000","tickWidth":1,"domain":false,"title":null,"zindex":1}},"y":{"field":"y","type":"quantitative","scale":{"domain":[-0.7,0.7],"nice":false,"zero":false},"axis":{"orient":"right","values":[-0.65,-0.6,-0.55,-0.5,-0.45,-0.4,-0.35,-0.3,-0.25,-0.2,-0.15,-0.1,-0.05,0,0.05,0.1,0.15,0.2,0.25,0.3,0.35,0.4,0.45,0.5,0.55,0.6,0.65],"grid":false,"labels":false,"ticks":true,"tickSize":-5,"tickColor":"#000","tickWidth":1,"domain":false,"title":null,"zindex":1}},"stroke":{"field":"c","type":"nominal","scale":{"domain":["+","-"],"range":["#0000ff","#ff0000"]},"legend":null}}},
{"data":{"name":"pts"},"transform":[{"filter":"datum.p=='a' && datum.m=='x'"}],"mark":{"type":"point","shape":"M-1,-0.6L-0.6,-1L0,-0.4L0.6,-1L1,-0.6L0.4,0L1,0.6L0.6,1L0,0.4L-0.6,1L-1,0.6L-0.4,0Z","size":165,"filled":true,"fill":"#ffff22","strokeWidth":1,"opacity":1},
"encoding":{"x":{"field":"x","type":"quantitative","scale":{"domain":[-0.3,1.1],"nice":false,"zero":false},"axis":{"orient":"top","values":[-0.2,0,0.2,0.4,0.6,0.8,1],"grid":false,"ticks":false,"domain":false,"labelExpr":"datum.value == 0 ? '0' : (datum.value < 0 ? '-' : '') + format(abs(datum.value), '.1f')","labelFont":"DejaVu Serif","labelFontStyle":"italic","labelFontSize":18,"labelColor":"#1a1a1a","labelPadding":10,"labelFlush":false,"labelOverlap":false,"title":"X/l","titleFont":"DejaVu Serif","titleFontStyle":"italic","titleFontWeight":"normal","titleFontSize":24,"titleColor":"#1a1a1a","titleAngle":0,"titleAlign":"center","titleBaseline":"middle","titleX":236,"titleY":-54,"zindex":1}},"y":{"field":"y","type":"quantitative","scale":{"domain":[-0.7,0.7],"nice":false,"zero":false},"axis":{"orient":"left","values":[-0.6,-0.4,-0.2,0,0.2,0.4,0.6],"grid":false,"ticks":false,"domain":false,"labelExpr":"datum.value == 0 ? '0' : (datum.value < 0 ? '-' : '') + format(abs(datum.value), '.1f')","labelFont":"DejaVu Serif","labelFontStyle":"italic","labelFontSize":18,"labelColor":"#1a1a1a","labelPadding":10,"labelFlush":false,"labelOverlap":false,"title":"Y/l","titleFont":"DejaVu Serif","titleFontStyle":"italic","titleFontWeight":"normal","titleFontSize":24,"titleColor":"#1a1a1a","titleAngle":0,"titleAlign":"center","titleBaseline":"middle","titleX":-64,"titleY":236,"zindex":1}},"stroke":{"field":"c","type":"nominal","scale":{"domain":["+","-"],"range":["#0000ff","#ff0000"]},"legend":null}}},
{"data":{"name":"lead"},"transform":[{"filter":"datum.p=='a'"}],"mark":{"type":"line","color":"#000","strokeWidth":1,"interpolate":"catmull-rom"},
"encoding":{"x":{"field":"x","type":"quantitative","scale":{"domain":[-0.3,1.1],"nice":false,"zero":false},"axis":{"orient":"bottom","values":[-0.2,0,0.2,0.4,0.6,0.8,1],"grid":false,"ticks":false,"domain":false,"labelExpr":"datum.value == 0 ? '0' : (datum.value < 0 ? '-' : '') + format(abs(datum.value), '.1f')","labelFont":"DejaVu Serif","labelFontStyle":"italic","labelFontSize":18,"labelColor":"#1a1a1a","labelPadding":11,"labelFlush":false,"labelOverlap":false,"title":null,"zindex":1}},"y":{"field":"y","type":"quantitative","scale":{"domain":[-0.7,0.7],"nice":false,"zero":false},"axis":null},"detail":{"field":"k","type":"nominal"},"order":{"field":"i","type":"quantitative"}}},
{"data":{"name":"lab"},"transform":[{"filter":"datum.p=='a' && datum.k=='C'"}],"mark":{"type":"text","font":"DejaVu Serif","fontStyle":"italic","fontSize":22,"color":"#000","align":"center","baseline":"middle"},
"encoding":{"x":{"field":"x","type":"quantitative","scale":{"domain":[-0.3,1.1],"nice":false,"zero":false},"axis":null},"y":{"field":"y","type":"quantitative","scale":{"domain":[-0.7,0.7],"nice":false,"zero":false},"axis":null},"text":{"field":"t"}}},
{"data":{"name":"lab"},"transform":[{"filter":"datum.p=='a' && datum.k=='P'"}],"mark":{"type":"text","font":"DejaVu Serif","fontStyle":"italic","fontSize":20,"color":"#000","align":"center","baseline":"middle"},
"encoding":{"x":{"field":"x","type":"quantitative","scale":{"domain":[-0.3,1.1],"nice":false,"zero":false},"axis":null},"y":{"field":"y","type":"quantitative","scale":{"domain":[-0.7,0.7],"nice":false,"zero":false},"axis":null},"text":{"field":"t"}}},
{"data":{"name":"lab"},"transform":[{"filter":"datum.p=='a' && datum.k=='S'"}],"mark":{"type":"text","font":"DejaVu Serif","fontSize":20,"color":"#000","align":"center","baseline":"middle"},
"encoding":{"x":{"field":"x","type":"quantitative","scale":{"domain":[-0.3,1.1],"nice":false,"zero":false},"axis":null},"y":{"field":"y","type":"quantitative","scale":{"domain":[-0.7,0.7],"nice":false,"zero":false},"axis":null},"text":{"field":"t"}}},
{"data":{"name":"box"},"transform":[{"filter":"datum.p=='a'"}],"mark":{"type":"rect","fill":"#fff","stroke":"#333","strokeWidth":1},
"encoding":{"x":{"field":"x","type":"quantitative","scale":{"domain":[-0.3,1.1],"nice":false,"zero":false},"axis":null},"x2":{"field":"x2"},"y":{"field":"y","type":"quantitative","scale":{"domain":[-0.7,0.7],"nice":false,"zero":false},"axis":null},"y2":{"field":"y2"}}},
{"data":{"name":"box"},"transform":[{"filter":"datum.p=='a'"}],"mark":{"type":"text","font":"DejaVu Serif","fontStyle":"italic","fontSize":32,"color":"#000","align":"center","baseline":"alphabetic"},
"encoding":{"x":{"field":"lx","type":"quantitative","scale":{"domain":[-0.3,1.1],"nice":false,"zero":false},"axis":null},"y":{"field":"ly","type":"quantitative","scale":{"domain":[-0.7,0.7],"nice":false,"zero":false},"axis":null},"text":{"field":"t"}}}
]},

{"width":472,"height":472,"resolve":{"axis":{"x":"independent","y":"independent"}},
"layer":[
{"data":{"name":"curve"},"transform":[{"filter":"datum.p=='b'"}],"mark":{"type":"line","fill":"#a2d4b5","strokeWidth":0,"strokeOpacity":0,"interpolate":"catmull-rom"},
"encoding":{"x":{"field":"x","type":"quantitative","scale":{"domain":[-0.3,1.1],"nice":false,"zero":false},"axis":{"orient":"bottom","values":[-0.2,-0.1,0,0.1,0.2,0.3,0.4,0.5,0.6,0.7,0.8,0.9,1],"grid":true,"gridColor":"#e2e2e2","gridWidth":1,"labels":false,"ticks":false,"domain":false,"title":null,"zindex":0}},"y":{"field":"y","type":"quantitative","scale":{"domain":[-0.7,0.7],"nice":false,"zero":false},"axis":{"orient":"left","values":[-0.6,-0.5,-0.4,-0.3,-0.2,-0.1,0,0.1,0.2,0.3,0.4,0.5,0.6],"grid":true,"gridColor":"#e2e2e2","gridWidth":1,"labels":false,"ticks":false,"domain":false,"title":null,"zindex":0}},"order":{"field":"i","type":"quantitative"}}},
{"data":{"values":[{}]},"mark":{"type":"rule","color":"#000","strokeWidth":1.3},"encoding":{"y":{"datum":0,"type":"quantitative","scale":{"domain":[-0.7,0.7],"nice":false,"zero":false},"axis":null}}},
{"data":{"values":[{}]},"mark":{"type":"rule","color":"#000","strokeWidth":1.3},"encoding":{"x":{"datum":0,"type":"quantitative","scale":{"domain":[-0.3,1.1],"nice":false,"zero":false},"axis":null}}},
{"data":{"name":"curve"},"transform":[{"filter":"datum.p=='b' && datum.s>0"}],"mark":{"type":"line","strokeWidth":3.5,"interpolate":"catmull-rom"},
"encoding":{"x":{"field":"x","type":"quantitative","scale":{"domain":[-0.3,1.1],"nice":false,"zero":false},"axis":{"orient":"bottom","values":[-0.25,-0.2,-0.15,-0.1,-0.05,0,0.05,0.1,0.15,0.2,0.25,0.3,0.35,0.4,0.45,0.5,0.55,0.6,0.65,0.7,0.75,0.8,0.85,0.9,0.95,1,1.05],"grid":false,"labels":false,"ticks":true,"tickSize":-5,"tickColor":"#000","tickWidth":1,"domain":false,"title":null,"zindex":1}},"y":{"field":"y","type":"quantitative","scale":{"domain":[-0.7,0.7],"nice":false,"zero":false},"axis":{"orient":"left","values":[-0.65,-0.6,-0.55,-0.5,-0.45,-0.4,-0.35,-0.3,-0.25,-0.2,-0.15,-0.1,-0.05,0,0.05,0.1,0.15,0.2,0.25,0.3,0.35,0.4,0.45,0.5,0.55,0.6,0.65],"grid":false,"labels":false,"ticks":true,"tickSize":-5,"tickColor":"#000","tickWidth":1,"domain":false,"title":null,"zindex":1}},"detail":{"field":"s","type":"nominal"},"order":{"field":"i","type":"quantitative"},"color":{"field":"c","type":"nominal","scale":{"domain":["+","-"],"range":["#0000ff","#ff0000"]},"legend":null}}},
{"data":{"name":"pts"},"transform":[{"filter":"datum.p=='b' && datum.m=='s'"}],"mark":{"type":"point","shape":"M0,-1L0.235,-0.324L0.951,-0.309L0.38,0.124L0.588,0.809L0,0.4L-0.588,0.809L-0.38,0.124L-0.951,-0.309L-0.235,-0.324Z","size":150,"filled":true,"fill":"#ffe800","strokeWidth":1,"opacity":1},
"encoding":{"x":{"field":"x","type":"quantitative","scale":{"domain":[-0.3,1.1],"nice":false,"zero":false},"axis":{"orient":"top","values":[-0.25,-0.2,-0.15,-0.1,-0.05,0,0.05,0.1,0.15,0.2,0.25,0.3,0.35,0.4,0.45,0.5,0.55,0.6,0.65,0.7,0.75,0.8,0.85,0.9,0.95,1,1.05],"grid":false,"labels":false,"ticks":true,"tickSize":-5,"tickColor":"#000","tickWidth":1,"domain":false,"title":null,"zindex":1}},"y":{"field":"y","type":"quantitative","scale":{"domain":[-0.7,0.7],"nice":false,"zero":false},"axis":{"orient":"right","values":[-0.65,-0.6,-0.55,-0.5,-0.45,-0.4,-0.35,-0.3,-0.25,-0.2,-0.15,-0.1,-0.05,0,0.05,0.1,0.15,0.2,0.25,0.3,0.35,0.4,0.45,0.5,0.55,0.6,0.65],"grid":false,"labels":false,"ticks":true,"tickSize":-5,"tickColor":"#000","tickWidth":1,"domain":false,"title":null,"zindex":1}},"stroke":{"field":"c","type":"nominal","scale":{"domain":["+","-"],"range":["#0000ff","#ff0000"]},"legend":null}}},
{"data":{"name":"pts"},"transform":[{"filter":"datum.p=='b' && datum.m=='x'"}],"mark":{"type":"point","shape":"M-1,-0.6L-0.6,-1L0,-0.4L0.6,-1L1,-0.6L0.4,0L1,0.6L0.6,1L0,0.4L-0.6,1L-1,0.6L-0.4,0Z","size":165,"filled":true,"fill":"#ffff22","strokeWidth":1,"opacity":1},
"encoding":{"x":{"field":"x","type":"quantitative","scale":{"domain":[-0.3,1.1],"nice":false,"zero":false},"axis":{"orient":"top","values":[-0.2,0,0.2,0.4,0.6,0.8,1],"grid":false,"ticks":false,"domain":false,"labelExpr":"datum.value == 0 ? '0' : (datum.value < 0 ? '-' : '') + format(abs(datum.value), '.1f')","labelFont":"DejaVu Serif","labelFontStyle":"italic","labelFontSize":18,"labelColor":"#1a1a1a","labelPadding":10,"labelFlush":false,"labelOverlap":false,"title":"X/l","titleFont":"DejaVu Serif","titleFontStyle":"italic","titleFontWeight":"normal","titleFontSize":24,"titleColor":"#1a1a1a","titleAngle":0,"titleAlign":"center","titleBaseline":"middle","titleX":236,"titleY":-54,"zindex":1}},"y":{"field":"y","type":"quantitative","scale":{"domain":[-0.7,0.7],"nice":false,"zero":false},"axis":{"orient":"right","values":[-0.6,-0.4,-0.2,0,0.2,0.4,0.6],"grid":false,"ticks":false,"domain":false,"labelExpr":"datum.value == 0 ? '0' : (datum.value < 0 ? '-' : '') + format(abs(datum.value), '.1f')","labelFont":"DejaVu Serif","labelFontStyle":"italic","labelFontSize":18,"labelColor":"#1a1a1a","labelAlign":"center","labelPadding":25,"labelFlush":false,"labelOverlap":false,"title":"Y/l","titleFont":"DejaVu Serif","titleFontStyle":"italic","titleFontWeight":"normal","titleFontSize":24,"titleColor":"#1a1a1a","titleAngle":0,"titleAlign":"center","titleBaseline":"middle","titleX":65,"titleY":236,"zindex":1}},"stroke":{"field":"c","type":"nominal","scale":{"domain":["+","-"],"range":["#0000ff","#ff0000"]},"legend":null}}},
{"data":{"name":"lead"},"transform":[{"filter":"datum.p=='b'"}],"mark":{"type":"line","color":"#000","strokeWidth":1,"interpolate":"catmull-rom"},
"encoding":{"x":{"field":"x","type":"quantitative","scale":{"domain":[-0.3,1.1],"nice":false,"zero":false},"axis":{"orient":"bottom","values":[-0.2,0,0.2,0.4,0.6,0.8,1],"grid":false,"ticks":false,"domain":false,"labelExpr":"datum.value == 0 ? '0' : (datum.value < 0 ? '-' : '') + format(abs(datum.value), '.1f')","labelFont":"DejaVu Serif","labelFontStyle":"italic","labelFontSize":18,"labelColor":"#1a1a1a","labelPadding":11,"labelFlush":false,"labelOverlap":false,"title":null,"zindex":1}},"y":{"field":"y","type":"quantitative","scale":{"domain":[-0.7,0.7],"nice":false,"zero":false},"axis":{"orient":"left","values":[-0.6,-0.4,-0.2,0,0.2,0.4,0.6],"grid":false,"ticks":false,"domain":false,"labelExpr":"datum.value == 0 ? '0' : (datum.value < 0 ? '-' : '') + format(abs(datum.value), '.1f')","labelFont":"DejaVu Serif","labelFontStyle":"italic","labelFontSize":18,"labelColor":"#1a1a1a","labelPadding":9,"labelFlush":false,"labelOverlap":false,"title":null,"zindex":1}},"detail":{"field":"k","type":"nominal"},"order":{"field":"i","type":"quantitative"}}},
{"data":{"name":"lab"},"transform":[{"filter":"datum.p=='b' && datum.k=='C'"}],"mark":{"type":"text","font":"DejaVu Serif","fontStyle":"italic","fontSize":22,"color":"#000","align":"center","baseline":"middle"},
"encoding":{"x":{"field":"x","type":"quantitative","scale":{"domain":[-0.3,1.1],"nice":false,"zero":false},"axis":null},"y":{"field":"y","type":"quantitative","scale":{"domain":[-0.7,0.7],"nice":false,"zero":false},"axis":null},"text":{"field":"t"}}},
{"data":{"name":"lab"},"transform":[{"filter":"datum.p=='b' && datum.k=='P'"}],"mark":{"type":"text","font":"DejaVu Serif","fontStyle":"italic","fontSize":20,"color":"#000","align":"center","baseline":"middle"},
"encoding":{"x":{"field":"x","type":"quantitative","scale":{"domain":[-0.3,1.1],"nice":false,"zero":false},"axis":null},"y":{"field":"y","type":"quantitative","scale":{"domain":[-0.7,0.7],"nice":false,"zero":false},"axis":null},"text":{"field":"t"}}},
{"data":{"name":"lab"},"transform":[{"filter":"datum.p=='b' && datum.k=='S'"}],"mark":{"type":"text","font":"DejaVu Serif","fontSize":20,"color":"#000","align":"center","baseline":"middle"},
"encoding":{"x":{"field":"x","type":"quantitative","scale":{"domain":[-0.3,1.1],"nice":false,"zero":false},"axis":null},"y":{"field":"y","type":"quantitative","scale":{"domain":[-0.7,0.7],"nice":false,"zero":false},"axis":null},"text":{"field":"t"}}},
{"data":{"name":"box"},"transform":[{"filter":"datum.p=='b'"}],"mark":{"type":"rect","fill":"#fff","stroke":"#333","strokeWidth":1},
"encoding":{"x":{"field":"x","type":"quantitative","scale":{"domain":[-0.3,1.1],"nice":false,"zero":false},"axis":null},"x2":{"field":"x2"},"y":{"field":"y","type":"quantitative","scale":{"domain":[-0.7,0.7],"nice":false,"zero":false},"axis":null},"y2":{"field":"y2"}}},
{"data":{"name":"box"},"transform":[{"filter":"datum.p=='b'"}],"mark":{"type":"text","font":"DejaVu Serif","fontStyle":"italic","fontSize":32,"color":"#000","align":"center","baseline":"alphabetic"},
"encoding":{"x":{"field":"lx","type":"quantitative","scale":{"domain":[-0.3,1.1],"nice":false,"zero":false},"axis":null},"y":{"field":"ly","type":"quantitative","scale":{"domain":[-0.7,0.7],"nice":false,"zero":false},"axis":null},"text":{"field":"t"}}}
]},

{"width":472,"height":472,"resolve":{"axis":{"x":"independent","y":"independent"}},
"layer":[
{"data":{"name":"curve"},"transform":[{"filter":"datum.p=='c'"}],"mark":{"type":"line","fill":"#a2d4b5","strokeWidth":0,"strokeOpacity":0,"interpolate":"catmull-rom"},
"encoding":{"x":{"field":"x","type":"quantitative","scale":{"domain":[-0.3,1.1],"nice":false,"zero":false},"axis":{"orient":"bottom","values":[-0.2,-0.1,0,0.1,0.2,0.3,0.4,0.5,0.6,0.7,0.8,0.9,1],"grid":true,"gridColor":"#e2e2e2","gridWidth":1,"labels":false,"ticks":false,"domain":false,"title":null,"zindex":0}},"y":{"field":"y","type":"quantitative","scale":{"domain":[-0.7,0.7],"nice":false,"zero":false},"axis":{"orient":"left","values":[-0.6,-0.5,-0.4,-0.3,-0.2,-0.1,0,0.1,0.2,0.3,0.4,0.5,0.6],"grid":true,"gridColor":"#e2e2e2","gridWidth":1,"labels":false,"ticks":false,"domain":false,"title":null,"zindex":0}},"order":{"field":"i","type":"quantitative"}}},
{"data":{"values":[{}]},"mark":{"type":"rule","color":"#000","strokeWidth":1.3},"encoding":{"y":{"datum":0,"type":"quantitative","scale":{"domain":[-0.7,0.7],"nice":false,"zero":false},"axis":null}}},
{"data":{"values":[{}]},"mark":{"type":"rule","color":"#000","strokeWidth":1.3},"encoding":{"x":{"datum":0,"type":"quantitative","scale":{"domain":[-0.3,1.1],"nice":false,"zero":false},"axis":null}}},
{"data":{"name":"curve"},"transform":[{"filter":"datum.p=='c' && datum.s>0"}],"mark":{"type":"line","strokeWidth":3.5,"interpolate":"catmull-rom"},
"encoding":{"x":{"field":"x","type":"quantitative","scale":{"domain":[-0.3,1.1],"nice":false,"zero":false},"axis":{"orient":"bottom","values":[-0.25,-0.2,-0.15,-0.1,-0.05,0,0.05,0.1,0.15,0.2,0.25,0.3,0.35,0.4,0.45,0.5,0.55,0.6,0.65,0.7,0.75,0.8,0.85,0.9,0.95,1,1.05],"grid":false,"labels":false,"ticks":true,"tickSize":-5,"tickColor":"#000","tickWidth":1,"domain":false,"title":null,"zindex":1}},"y":{"field":"y","type":"quantitative","scale":{"domain":[-0.7,0.7],"nice":false,"zero":false},"axis":{"orient":"left","values":[-0.65,-0.6,-0.55,-0.5,-0.45,-0.4,-0.35,-0.3,-0.25,-0.2,-0.15,-0.1,-0.05,0,0.05,0.1,0.15,0.2,0.25,0.3,0.35,0.4,0.45,0.5,0.55,0.6,0.65],"grid":false,"labels":false,"ticks":true,"tickSize":-5,"tickColor":"#000","tickWidth":1,"domain":false,"title":null,"zindex":1}},"detail":{"field":"s","type":"nominal"},"order":{"field":"i","type":"quantitative"},"color":{"field":"c","type":"nominal","scale":{"domain":["+","-"],"range":["#0000ff","#ff0000"]},"legend":null}}},
{"data":{"name":"pts"},"transform":[{"filter":"datum.p=='c' && datum.m=='s'"}],"mark":{"type":"point","shape":"M0,-1L0.235,-0.324L0.951,-0.309L0.38,0.124L0.588,0.809L0,0.4L-0.588,0.809L-0.38,0.124L-0.951,-0.309L-0.235,-0.324Z","size":150,"filled":true,"fill":"#ffe800","strokeWidth":1,"opacity":1},
"encoding":{"x":{"field":"x","type":"quantitative","scale":{"domain":[-0.3,1.1],"nice":false,"zero":false},"axis":{"orient":"top","values":[-0.25,-0.2,-0.15,-0.1,-0.05,0,0.05,0.1,0.15,0.2,0.25,0.3,0.35,0.4,0.45,0.5,0.55,0.6,0.65,0.7,0.75,0.8,0.85,0.9,0.95,1,1.05],"grid":false,"labels":false,"ticks":true,"tickSize":-5,"tickColor":"#000","tickWidth":1,"domain":false,"title":null,"zindex":1}},"y":{"field":"y","type":"quantitative","scale":{"domain":[-0.7,0.7],"nice":false,"zero":false},"axis":{"orient":"right","values":[-0.65,-0.6,-0.55,-0.5,-0.45,-0.4,-0.35,-0.3,-0.25,-0.2,-0.15,-0.1,-0.05,0,0.05,0.1,0.15,0.2,0.25,0.3,0.35,0.4,0.45,0.5,0.55,0.6,0.65],"grid":false,"labels":false,"ticks":true,"tickSize":-5,"tickColor":"#000","tickWidth":1,"domain":false,"title":null,"zindex":1}},"stroke":{"field":"c","type":"nominal","scale":{"domain":["+","-"],"range":["#0000ff","#ff0000"]},"legend":null}}},
{"data":{"name":"pts"},"transform":[{"filter":"datum.p=='c' && datum.m=='x'"}],"mark":{"type":"point","shape":"M-1,-0.6L-0.6,-1L0,-0.4L0.6,-1L1,-0.6L0.4,0L1,0.6L0.6,1L0,0.4L-0.6,1L-1,0.6L-0.4,0Z","size":165,"filled":true,"fill":"#ffff22","strokeWidth":1,"opacity":1},
"encoding":{"x":{"field":"x","type":"quantitative","scale":{"domain":[-0.3,1.1],"nice":false,"zero":false},"axis":{"orient":"bottom","values":[-0.2,0,0.2,0.4,0.6,0.8,1],"grid":false,"ticks":false,"domain":false,"labelExpr":"datum.value == 0 ? '0' : (datum.value < 0 ? '-' : '') + format(abs(datum.value), '.1f')","labelFont":"DejaVu Serif","labelFontStyle":"italic","labelFontSize":18,"labelColor":"#1a1a1a","labelPadding":13,"labelFlush":false,"labelOverlap":false,"title":"X/l","titleFont":"DejaVu Serif","titleFontStyle":"italic","titleFontWeight":"normal","titleFontSize":24,"titleColor":"#1a1a1a","titleAngle":0,"titleAlign":"center","titleBaseline":"middle","titleX":236,"titleY":47,"zindex":1}},"y":{"field":"y","type":"quantitative","scale":{"domain":[-0.7,0.7],"nice":false,"zero":false},"axis":{"orient":"left","values":[-0.6,-0.4,-0.2,0,0.2,0.4,0.6],"grid":false,"ticks":false,"domain":false,"labelExpr":"datum.value == 0 ? '0' : (datum.value < 0 ? '-' : '') + format(abs(datum.value), '.1f')","labelFont":"DejaVu Serif","labelFontStyle":"italic","labelFontSize":18,"labelColor":"#1a1a1a","labelPadding":10,"labelFlush":false,"labelOverlap":false,"title":"Y/l","titleFont":"DejaVu Serif","titleFontStyle":"italic","titleFontWeight":"normal","titleFontSize":24,"titleColor":"#1a1a1a","titleAngle":0,"titleAlign":"center","titleBaseline":"middle","titleX":-64,"titleY":236,"zindex":1}},"stroke":{"field":"c","type":"nominal","scale":{"domain":["+","-"],"range":["#0000ff","#ff0000"]},"legend":null}}},
{"data":{"name":"lead"},"transform":[{"filter":"datum.p=='c'"}],"mark":{"type":"line","color":"#000","strokeWidth":1,"interpolate":"catmull-rom"},
"encoding":{"x":{"field":"x","type":"quantitative","scale":{"domain":[-0.3,1.1],"nice":false,"zero":false},"axis":null},"y":{"field":"y","type":"quantitative","scale":{"domain":[-0.7,0.7],"nice":false,"zero":false},"axis":null},"detail":{"field":"k","type":"nominal"},"order":{"field":"i","type":"quantitative"}}},
{"data":{"name":"lab"},"transform":[{"filter":"datum.p=='c' && datum.k=='C'"}],"mark":{"type":"text","font":"DejaVu Serif","fontStyle":"italic","fontSize":22,"color":"#000","align":"center","baseline":"middle"},
"encoding":{"x":{"field":"x","type":"quantitative","scale":{"domain":[-0.3,1.1],"nice":false,"zero":false},"axis":null},"y":{"field":"y","type":"quantitative","scale":{"domain":[-0.7,0.7],"nice":false,"zero":false},"axis":null},"text":{"field":"t"}}},
{"data":{"name":"lab"},"transform":[{"filter":"datum.p=='c' && datum.k=='P'"}],"mark":{"type":"text","font":"DejaVu Serif","fontStyle":"italic","fontSize":20,"color":"#000","align":"center","baseline":"middle"},
"encoding":{"x":{"field":"x","type":"quantitative","scale":{"domain":[-0.3,1.1],"nice":false,"zero":false},"axis":null},"y":{"field":"y","type":"quantitative","scale":{"domain":[-0.7,0.7],"nice":false,"zero":false},"axis":null},"text":{"field":"t"}}},
{"data":{"name":"lab"},"transform":[{"filter":"datum.p=='c' && datum.k=='S'"}],"mark":{"type":"text","font":"DejaVu Serif","fontSize":20,"color":"#000","align":"center","baseline":"middle"},
"encoding":{"x":{"field":"x","type":"quantitative","scale":{"domain":[-0.3,1.1],"nice":false,"zero":false},"axis":null},"y":{"field":"y","type":"quantitative","scale":{"domain":[-0.7,0.7],"nice":false,"zero":false},"axis":null},"text":{"field":"t"}}},
{"data":{"name":"box"},"transform":[{"filter":"datum.p=='c'"}],"mark":{"type":"rect","fill":"#fff","stroke":"#333","strokeWidth":1},
"encoding":{"x":{"field":"x","type":"quantitative","scale":{"domain":[-0.3,1.1],"nice":false,"zero":false},"axis":null},"x2":{"field":"x2"},"y":{"field":"y","type":"quantitative","scale":{"domain":[-0.7,0.7],"nice":false,"zero":false},"axis":null},"y2":{"field":"y2"}}},
{"data":{"name":"box"},"transform":[{"filter":"datum.p=='c'"}],"mark":{"type":"text","font":"DejaVu Serif","fontStyle":"italic","fontSize":32,"color":"#000","align":"center","baseline":"alphabetic"},
"encoding":{"x":{"field":"lx","type":"quantitative","scale":{"domain":[-0.3,1.1],"nice":false,"zero":false},"axis":null},"y":{"field":"ly","type":"quantitative","scale":{"domain":[-0.7,0.7],"nice":false,"zero":false},"axis":null},"text":{"field":"t"}}}
]},

{"width":472,"height":472,"resolve":{"axis":{"x":"independent","y":"independent"}},
"layer":[
{"data":{"name":"curve"},"transform":[{"filter":"datum.p=='d'"}],"mark":{"type":"line","fill":"#a2d4b5","strokeWidth":0,"strokeOpacity":0,"interpolate":"catmull-rom"},
"encoding":{"x":{"field":"x","type":"quantitative","scale":{"domain":[-0.3,1.1],"nice":false,"zero":false},"axis":{"orient":"bottom","values":[-0.2,-0.1,0,0.1,0.2,0.3,0.4,0.5,0.6,0.7,0.8,0.9,1],"grid":true,"gridColor":"#e2e2e2","gridWidth":1,"labels":false,"ticks":false,"domain":false,"title":null,"zindex":0}},"y":{"field":"y","type":"quantitative","scale":{"domain":[-0.7,0.7],"nice":false,"zero":false},"axis":{"orient":"left","values":[-0.6,-0.5,-0.4,-0.3,-0.2,-0.1,0,0.1,0.2,0.3,0.4,0.5,0.6],"grid":true,"gridColor":"#e2e2e2","gridWidth":1,"labels":false,"ticks":false,"domain":false,"title":null,"zindex":0}},"order":{"field":"i","type":"quantitative"}}},
{"data":{"values":[{}]},"mark":{"type":"rule","color":"#000","strokeWidth":1.3},"encoding":{"y":{"datum":0,"type":"quantitative","scale":{"domain":[-0.7,0.7],"nice":false,"zero":false},"axis":null},"x":{"datum":-0.3,"type":"quantitative","scale":{"domain":[-0.3,1.1],"nice":false,"zero":false},"axis":null},"x2":{"datum":1.05}}},
{"data":{"values":[{}]},"mark":{"type":"rule","color":"#000","strokeWidth":1.3},"encoding":{"x":{"datum":0,"type":"quantitative","scale":{"domain":[-0.3,1.1],"nice":false,"zero":false},"axis":null}}},
{"data":{"name":"curve"},"transform":[{"filter":"datum.p=='d' && datum.s>0"}],"mark":{"type":"line","strokeWidth":3.5,"interpolate":"catmull-rom"},
"encoding":{"x":{"field":"x","type":"quantitative","scale":{"domain":[-0.3,1.1],"nice":false,"zero":false},"axis":{"orient":"bottom","values":[-0.25,-0.2,-0.15,-0.1,-0.05,0,0.05,0.1,0.15,0.2,0.25,0.3,0.35,0.4,0.45,0.5,0.55,0.6,0.65,0.7,0.75,0.8,0.85,0.9,0.95,1,1.05],"grid":false,"labels":false,"ticks":true,"tickSize":-5,"tickColor":"#000","tickWidth":1,"domain":false,"title":null,"zindex":1}},"y":{"field":"y","type":"quantitative","scale":{"domain":[-0.7,0.7],"nice":false,"zero":false},"axis":{"orient":"left","values":[-0.65,-0.6,-0.55,-0.5,-0.45,-0.4,-0.35,-0.3,-0.25,-0.2,-0.15,-0.1,-0.05,0,0.05,0.1,0.15,0.2,0.25,0.3,0.35,0.4,0.45,0.5,0.55,0.6,0.65],"grid":false,"labels":false,"ticks":true,"tickSize":-5,"tickColor":"#000","tickWidth":1,"domain":false,"title":null,"zindex":1}},"detail":{"field":"s","type":"nominal"},"order":{"field":"i","type":"quantitative"},"color":{"field":"c","type":"nominal","scale":{"domain":["+","-"],"range":["#0000ff","#ff0000"]},"legend":null}}},
{"data":{"name":"pts"},"transform":[{"filter":"datum.p=='d' && datum.m=='s'"}],"mark":{"type":"point","shape":"M0,-1L0.235,-0.324L0.951,-0.309L0.38,0.124L0.588,0.809L0,0.4L-0.588,0.809L-0.38,0.124L-0.951,-0.309L-0.235,-0.324Z","size":150,"filled":true,"fill":"#ffe800","strokeWidth":1,"opacity":1},
"encoding":{"x":{"field":"x","type":"quantitative","scale":{"domain":[-0.3,1.1],"nice":false,"zero":false},"axis":{"orient":"top","values":[-0.25,-0.2,-0.15,-0.1,-0.05,0,0.05,0.1,0.15,0.2,0.25,0.3,0.35,0.4,0.45,0.5,0.55,0.6,0.65,0.7,0.75,0.8,0.85,0.9,0.95,1,1.05],"grid":false,"labels":false,"ticks":true,"tickSize":-5,"tickColor":"#000","tickWidth":1,"domain":false,"title":null,"zindex":1}},"y":{"field":"y","type":"quantitative","scale":{"domain":[-0.7,0.7],"nice":false,"zero":false},"axis":{"orient":"right","values":[-0.65,-0.6,-0.55,-0.5,-0.45,-0.4,-0.35,-0.3,-0.25,-0.2,-0.15,-0.1,-0.05,0,0.05,0.1,0.15,0.2,0.25,0.3,0.35,0.4,0.45,0.5,0.55,0.6,0.65],"grid":false,"labels":false,"ticks":true,"tickSize":-5,"tickColor":"#000","tickWidth":1,"domain":false,"title":null,"zindex":1}},"stroke":{"field":"c","type":"nominal","scale":{"domain":["+","-"],"range":["#0000ff","#ff0000"]},"legend":null}}},
{"data":{"name":"pts"},"transform":[{"filter":"datum.p=='d' && datum.m=='x'"}],"mark":{"type":"point","shape":"M-1,-0.6L-0.6,-1L0,-0.4L0.6,-1L1,-0.6L0.4,0L1,0.6L0.6,1L0,0.4L-0.6,1L-1,0.6L-0.4,0Z","size":165,"filled":true,"fill":"#ffff22","strokeWidth":1,"opacity":1},
"encoding":{"x":{"field":"x","type":"quantitative","scale":{"domain":[-0.3,1.1],"nice":false,"zero":false},"axis":{"orient":"bottom","values":[-0.2,0,0.2,0.4,0.6,0.8,1],"grid":false,"ticks":false,"domain":false,"labelExpr":"datum.value == 0 ? '0' : (datum.value < 0 ? '-' : '') + format(abs(datum.value), '.1f')","labelFont":"DejaVu Serif","labelFontStyle":"italic","labelFontSize":18,"labelColor":"#1a1a1a","labelPadding":13,"labelFlush":false,"labelOverlap":false,"title":"X/l","titleFont":"DejaVu Serif","titleFontStyle":"italic","titleFontWeight":"normal","titleFontSize":24,"titleColor":"#1a1a1a","titleAngle":0,"titleAlign":"center","titleBaseline":"middle","titleX":236,"titleY":47,"zindex":1}},"y":{"field":"y","type":"quantitative","scale":{"domain":[-0.7,0.7],"nice":false,"zero":false},"axis":{"orient":"right","values":[-0.6,-0.4,-0.2,0,0.2,0.4,0.6],"grid":false,"ticks":false,"domain":false,"labelExpr":"datum.value == 0 ? '0' : (datum.value < 0 ? '-' : '') + format(abs(datum.value), '.1f')","labelFont":"DejaVu Serif","labelFontStyle":"italic","labelFontSize":18,"labelColor":"#1a1a1a","labelAlign":"center","labelPadding":25,"labelFlush":false,"labelOverlap":false,"title":"Y/l","titleFont":"DejaVu Serif","titleFontStyle":"italic","titleFontWeight":"normal","titleFontSize":24,"titleColor":"#1a1a1a","titleAngle":0,"titleAlign":"center","titleBaseline":"middle","titleX":65,"titleY":236,"zindex":1}},"stroke":{"field":"c","type":"nominal","scale":{"domain":["+","-"],"range":["#0000ff","#ff0000"]},"legend":null}}},
{"data":{"name":"lead"},"transform":[{"filter":"datum.p=='d'"}],"mark":{"type":"line","color":"#000","strokeWidth":1,"interpolate":"catmull-rom"},
"encoding":{"x":{"field":"x","type":"quantitative","scale":{"domain":[-0.3,1.1],"nice":false,"zero":false},"axis":null},"y":{"field":"y","type":"quantitative","scale":{"domain":[-0.7,0.7],"nice":false,"zero":false},"axis":{"orient":"left","values":[-0.6,-0.4,-0.2,0,0.2,0.4,0.6],"grid":false,"ticks":false,"domain":false,"labelExpr":"datum.value == 0 ? '0' : (datum.value < 0 ? '-' : '') + format(abs(datum.value), '.1f')","labelFont":"DejaVu Serif","labelFontStyle":"italic","labelFontSize":18,"labelColor":"#1a1a1a","labelPadding":9,"labelFlush":false,"labelOverlap":false,"title":null,"zindex":1}},"detail":{"field":"k","type":"nominal"},"order":{"field":"i","type":"quantitative"}}},
{"data":{"name":"lab"},"transform":[{"filter":"datum.p=='d' && datum.k=='C'"}],"mark":{"type":"text","font":"DejaVu Serif","fontStyle":"italic","fontSize":22,"color":"#000","align":"center","baseline":"middle"},
"encoding":{"x":{"field":"x","type":"quantitative","scale":{"domain":[-0.3,1.1],"nice":false,"zero":false},"axis":null},"y":{"field":"y","type":"quantitative","scale":{"domain":[-0.7,0.7],"nice":false,"zero":false},"axis":null},"text":{"field":"t"}}},
{"data":{"name":"lab"},"transform":[{"filter":"datum.p=='d' && datum.k=='P'"}],"mark":{"type":"text","font":"DejaVu Serif","fontStyle":"italic","fontSize":20,"color":"#000","align":"center","baseline":"middle"},
"encoding":{"x":{"field":"x","type":"quantitative","scale":{"domain":[-0.3,1.1],"nice":false,"zero":false},"axis":null},"y":{"field":"y","type":"quantitative","scale":{"domain":[-0.7,0.7],"nice":false,"zero":false},"axis":null},"text":{"field":"t"}}},
{"data":{"name":"lab"},"transform":[{"filter":"datum.p=='d' && datum.k=='S'"}],"mark":{"type":"text","font":"DejaVu Serif","fontSize":20,"color":"#000","align":"center","baseline":"middle"},
"encoding":{"x":{"field":"x","type":"quantitative","scale":{"domain":[-0.3,1.1],"nice":false,"zero":false},"axis":null},"y":{"field":"y","type":"quantitative","scale":{"domain":[-0.7,0.7],"nice":false,"zero":false},"axis":null},"text":{"field":"t"}}},
{"data":{"name":"box"},"transform":[{"filter":"datum.p=='d'"}],"mark":{"type":"rect","fill":"#fff","stroke":"#333","strokeWidth":1},
"encoding":{"x":{"field":"x","type":"quantitative","scale":{"domain":[-0.3,1.1],"nice":false,"zero":false},"axis":null},"x2":{"field":"x2"},"y":{"field":"y","type":"quantitative","scale":{"domain":[-0.7,0.7],"nice":false,"zero":false},"axis":null},"y2":{"field":"y2"}}},
{"data":{"name":"box"},"transform":[{"filter":"datum.p=='d'"}],"mark":{"type":"text","font":"DejaVu Serif","fontStyle":"italic","fontSize":32,"color":"#000","align":"center","baseline":"alphabetic"},
"encoding":{"x":{"field":"lx","type":"quantitative","scale":{"domain":[-0.3,1.1],"nice":false,"zero":false},"axis":null},"y":{"field":"ly","type":"quantitative","scale":{"domain":[-0.7,0.7],"nice":false,"zero":false},"axis":null},"text":{"field":"t"}}},
{"data":{"name":"legbox"},"mark":{"type":"rect","fill":"#fff","stroke":"#333","strokeWidth":1},
"encoding":{"x":{"field":"x","type":"quantitative","scale":{"domain":[-0.3,1.1],"nice":false,"zero":false},"axis":null},"x2":{"field":"x2"},"y":{"field":"y","type":"quantitative","scale":{"domain":[-0.7,0.7],"nice":false,"zero":false},"axis":null},"y2":{"field":"y2"}}},
{"data":{"name":"leg"},"transform":[{"filter":"datum.m=='s'"}],"mark":{"type":"point","shape":"M0,-1L0.235,-0.324L0.951,-0.309L0.38,0.124L0.588,0.809L0,0.4L-0.588,0.809L-0.38,0.124L-0.951,-0.309L-0.235,-0.324Z","size":170,"filled":true,"fill":"#ffe800","stroke":"#7d7000","strokeWidth":1,"opacity":1},
"encoding":{"x":{"field":"x","type":"quantitative","scale":{"domain":[-0.3,1.1],"nice":false,"zero":false},"axis":null},"y":{"field":"y","type":"quantitative","scale":{"domain":[-0.7,0.7],"nice":false,"zero":false},"axis":null}}},
{"data":{"name":"leg"},"transform":[{"filter":"datum.m=='x'"}],"mark":{"type":"point","shape":"M-1,-0.6L-0.6,-1L0,-0.4L0.6,-1L1,-0.6L0.4,0L1,0.6L0.6,1L0,0.4L-0.6,1L-1,0.6L-0.4,0Z","size":170,"filled":true,"fill":"#ffff22","stroke":"#7d7000","strokeWidth":1,"opacity":1},
"encoding":{"x":{"field":"x","type":"quantitative","scale":{"domain":[-0.3,1.1],"nice":false,"zero":false},"axis":null},"y":{"field":"y","type":"quantitative","scale":{"domain":[-0.7,0.7],"nice":false,"zero":false},"axis":null}}},
{"data":{"name":"leg"},"mark":{"type":"text","font":"DejaVu Serif","fontStyle":"italic","fontSize":16,"color":"#111","align":"left","baseline":"middle"},
"encoding":{"x":{"field":"tx","type":"quantitative","scale":{"domain":[-0.3,1.1],"nice":false,"zero":false},"axis":null},"y":{"field":"y","type":"quantitative","scale":{"domain":[-0.7,0.7],"nice":false,"zero":false},"axis":null},"text":{"field":"t"}}}
]}
]
}
